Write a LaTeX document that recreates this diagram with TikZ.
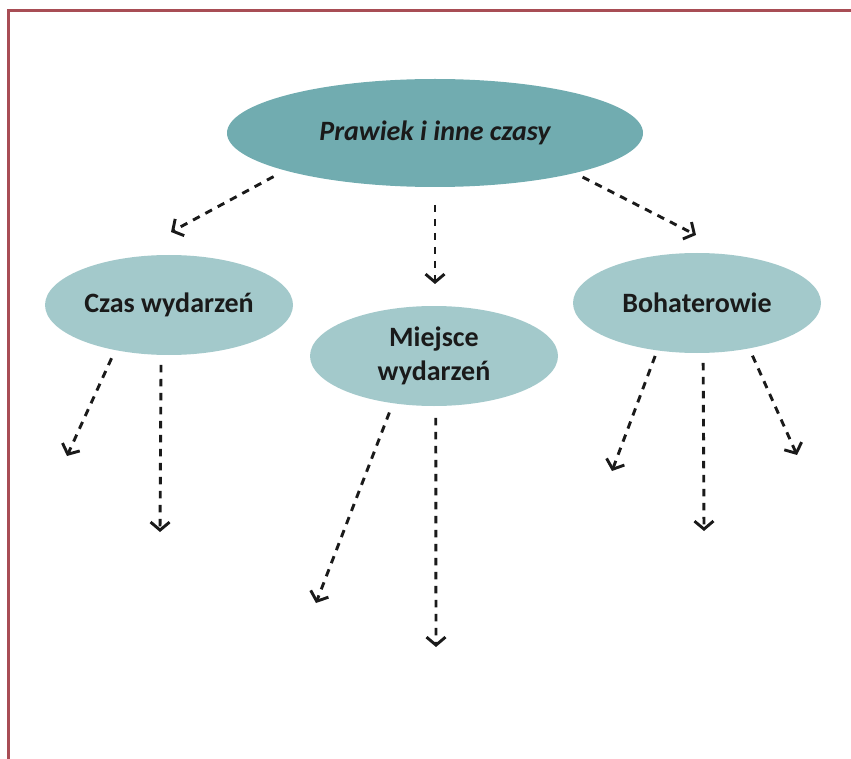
\documentclass[tikz,border=0pt]{standalone}
\usepackage{fontspec}
\setmainfont{Carlito}
\usepackage{tikz}
\usetikzlibrary{arrows.meta}
\usetikzlibrary{shapes.geometric}
\definecolor{ramka}{HTML}{A84D55}
\definecolor{glowny}{HTML}{71ACB0}
\definecolor{jasny}{HTML}{A3C9CB}
\definecolor{napis}{HTML}{1A1A1A}
\tikzset{
	owal/.style={ellipse, fill=jasny, inner sep=0pt, outer sep=0pt, minimum width=248pt, minimum height=100pt, align=center, text=napis, font=\fontsize{28}{34}\selectfont\bfseries},
	strz/.style={line width=2.9pt, dash pattern=on 7.5pt off 6.5pt, -{Straight Barb[length=8pt,width=19pt]}, napis}
}

\begin{document}
\begin{tikzpicture}[x=1pt,y=-1pt]
		\useasboundingbox (0,0) rectangle (851,759);
		\draw[ramka, line width=3pt] (8.5,10.5) rectangle (880,790);

		\node[owal, fill=glowny, minimum width=416pt, minimum height=108pt, font=\fontsize{28}{34}\selectfont\bfseries\itshape] (prawiek) at (435,133) {Prawiek i inne czasy};

		\node[owal] (czas) at (169,305) {Czas wydarze\'n};
		\node[owal] (miejsce) at (434,356) {Miejsce\\wydarze\'n};
		\node[owal] (bohater) at (697,303) {Bohaterowie};

		\coordinate (k1) at (171,232);
		\coordinate (k2) at (435,284);
		\coordinate (k3) at (696,235);
		\draw[strz, shorten <=13pt] (prawiek.194) -- (k1);
		\draw[strz, shorten <=18pt] (prawiek.south) -- (k2);
		\draw[strz, shorten <=9pt] (prawiek.344) -- (k3);

		\coordinate (c1) at (67,456);
		\coordinate (c2) at (160,532);
		\draw[strz, shorten <=9pt] (czas.220) -- (c1);
		\draw[strz, shorten <=10pt] (czas.261) -- (c2);

		\coordinate (m1) at (316,603);
		\coordinate (m2) at (436,647);
		\draw[strz, shorten <=10pt] (miejsce.229) -- (m1);
		\draw[strz, shorten <=12pt] (miejsce.272) -- (m2);

		\coordinate (b1) at (612,471);
		\coordinate (b2) at (704,531);
		\coordinate (b3) at (797,455);
		\draw[strz, shorten <=6pt] (bohater.230) -- (b1);
		\draw[strz, shorten <=10pt] (bohater.277) -- (b2);
		\draw[strz, shorten <=8pt] (bohater.319) -- (b3);

	\end{tikzpicture}
\end{document}
